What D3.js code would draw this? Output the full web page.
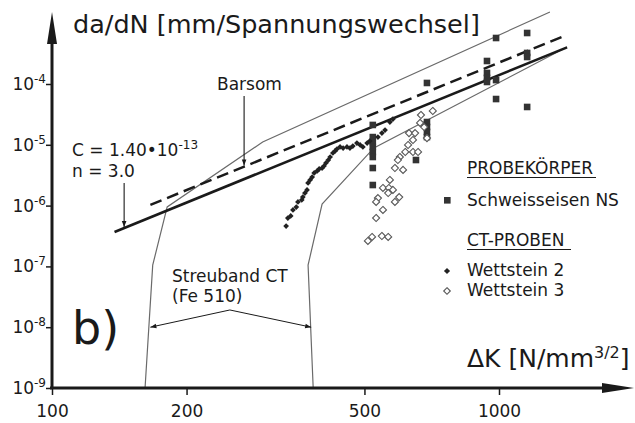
<!DOCTYPE html>
<html><head><meta charset="utf-8">
<script src="https://cdn.jsdelivr.net/npm/d3@7"></script>
<style>body{margin:0;background:#fff}svg{display:block}text{font-family:"DejaVu Sans",sans-serif;fill:#1a1a1a}</style>
</head><body><svg id="c" width="635" height="423"></svg>
<script>
// ---- data ----
const xTicks = [100, 200, 500, 1000];
const xTickLabels = ["100", "200", "500", "1000"];
const yTicks = [1e-4, 1e-5, 1e-6, 1e-7, 1e-8, 1e-9];
const yTickExps = ["-4", "-5", "-6", "-7", "-8", "-9"];

// Paris law lines  da/dN = C * dK^n
const parisC = 1.40e-13, parisN = 3.0, parisRange = [138, 1420];
const barsomC = 2.25e-13, barsomN = 3.0, barsomRange = [166, 1390];

// scatter band CT (Fe 510) boundaries [dK, da/dN]
const bandLeft = [[161.5, 1e-9], [168, 1.05e-7], [181, 9.5e-7], [296, 1.11e-5], [1300, 1.53e-3]];
const bandRight = [[384, 1e-9], [374, 1.05e-7], [402, 1.06e-6], [525, 8.9e-6], [1420, 4.06e-4]];

// Schweisseisen NS (squares)
const schweisseisen = [
  [522, 2.12e-5], [522, 1.34e-5], [522, 1.11e-5], [522, 9.21e-6], [522, 7.62e-6], [522, 6.30e-6],
  [522, 4.15e-6], [522, 2.18e-6],
  [690, 2.37e-5], [690, 1.96e-5], [690, 1.63e-5], [690, 1.34e-5], [652, 5.62e-6], [690, 1.04e-4],
  [940, 2.39e-4], [940, 1.52e-4], [940, 1.26e-4], [940, 1.08e-4],
  [985, 5.71e-4], [985, 1.16e-4], [985, 5.66e-5],
  [1156, 6.9e-4], [1156, 3.24e-4], [1156, 2.78e-4], [1156, 4.19e-5]
];
// Wettstein 2 (filled diamonds)
const wettstein2 = [
  [334, 4.61e-7], [337, 6.25e-7], [342, 6.75e-7], [346, 8.48e-7], [352, 9.48e-7], [355, 1.15e-6],
  [362, 1.24e-6], [364, 1.38e-6], [368, 1.61e-6], [372, 1.81e-6], [374, 2.36e-6], [378, 2.64e-6],
  [382, 2.95e-6], [386, 3.44e-6], [392, 3.71e-6], [396, 4.00e-6], [402, 4.15e-6], [406, 4.48e-6],
  [410, 5.02e-6], [415, 5.62e-6], [419, 6.30e-6], [425, 7.33e-6], [430, 7.91e-6], [434, 8.53e-6],
  [441, 9.21e-6], [448, 8.85e-6], [457, 9.21e-6], [464, 8.85e-6], [471, 9.55e-6], [481, 1.07e-5],
  [489, 9.93e-6], [496, 9.21e-6], [507, 1.07e-5], [514, 1.15e-5], [536, 1.34e-5], [547, 1.56e-5],
  [556, 1.75e-5], [570, 2.37e-5], [579, 2.65e-5]
];
// Wettstein 3 (open diamonds)
const wettstein3 = [
  [711, 3.60e-5], [669, 3.09e-5], [666, 2.29e-5], [680, 1.96e-5], [690, 1.29e-5], [629, 1.56e-5],
  [649, 1.56e-5], [642, 1.20e-5], [626, 9.93e-6], [617, 7.62e-6], [642, 7.62e-6], [659, 7.62e-6],
  [600, 6.30e-6], [594, 5.62e-6], [585, 4.15e-6], [610, 3.86e-6], [570, 2.64e-6], [550, 1.95e-6],
  [567, 1.95e-6], [579, 1.81e-6], [565, 1.61e-6], [598, 1.38e-6], [585, 1.15e-6], [536, 1.33e-6],
  [531, 1.15e-6], [550, 8.48e-7], [531, 6.25e-7], [509, 2.62e-7], [520, 3.05e-7], [547, 3.16e-7],
  [565, 3.05e-7]
];

// ---- drawing ----
const svg = d3.select("#c");
const x = d3.scaleLog().domain([100, 1000]).range([52, 499]);
const y = d3.scaleLog().domain([1e-9, 1e-4]).range([388, 84]);
const ink = "#1a1a1a";

// band
const bandLine = d3.line().x(d => x(d[0])).y(d => y(d[1]));
[bandLeft, bandRight].forEach(b => svg.append("path").attr("d", bandLine(b))
  .attr("fill", "none").attr("stroke", "#6a6a6a").attr("stroke-width", 1.2));

// Paris lines
function powLine(C, n, r) { return r.map(k => [k, C * Math.pow(k, n)]); }
svg.append("path").attr("d", bandLine(powLine(barsomC, barsomN, barsomRange)))
  .attr("fill", "none").attr("stroke", ink).attr("stroke-width", 2.5).attr("stroke-dasharray", "12,6");
svg.append("path").attr("d", bandLine(powLine(parisC, parisN, parisRange)))
  .attr("fill", "none").attr("stroke", ink).attr("stroke-width", 2.6);

// markers
svg.append("g").selectAll("rect").data(schweisseisen).join("rect")
  .attr("x", d => x(d[0]) - 3.3).attr("y", d => y(d[1]) - 3.3).attr("width", 6.6).attr("height", 6.6)
  .attr("fill", "#333");
const diam = d3.symbol().type(d3.symbolDiamond2);
svg.append("g").selectAll("path").data(wettstein2).join("path")
  .attr("d", diam.size(21)()).attr("transform", d => `translate(${x(d[0])},${y(d[1])})`)
  .attr("fill", "#222");
svg.append("g").selectAll("path").data(wettstein3).join("path")
  .attr("d", diam.size(32)()).attr("transform", d => `translate(${x(d[0])},${y(d[1])})`)
  .attr("fill", "#fff").attr("stroke", "#555").attr("stroke-width", 1.1);

// axes
const xAxis = d3.axisBottom(x).tickValues(xTicks).tickFormat((d, i) => xTickLabels[i]).tickSize(7).tickSizeOuter(0);
const gx = svg.append("g").attr("transform", "translate(0,388)").call(xAxis);
gx.select(".domain").remove();
gx.selectAll("line").attr("stroke", ink).attr("stroke-width", 1.5);
gx.selectAll("text").attr("dy", null).attr("y", 29).attr("font-size", 17).attr("font-family", "DejaVu Sans").attr("fill", ink);

const yAxis = d3.axisLeft(y).tickValues(yTicks).tickFormat("").tickSize(6).tickSizeOuter(0);
const gy = svg.append("g").attr("transform", "translate(52,0)").call(yAxis);
gy.select(".domain").remove();
gy.selectAll("line").attr("stroke", ink).attr("stroke-width", 1.5);
const yl = svg.append("g").selectAll("text").data(yTicks).join("text")
  .attr("x", 46).attr("y", d => y(d) + 6).attr("text-anchor", "end").attr("font-size", 17);
yl.append("tspan").text("10");
yl.append("tspan").attr("dy", -7).attr("font-size", 12).text((d, i) => yTickExps[i]);

// axis lines with arrows
svg.append("line").attr("x1", 52).attr("y1", 389).attr("x2", 52).attr("y2", 30).attr("stroke", ink).attr("stroke-width", 3);
svg.append("line").attr("x1", 50).attr("y1", 388).attr("x2", 615).attr("y2", 388).attr("stroke", ink).attr("stroke-width", 3);
svg.append("path").attr("d", "M52,12 L57,44 L47,44 Z").attr("fill", ink);
svg.append("path").attr("d", "M634,388 L602,383 L602,393 Z").attr("fill", ink);

// titles
svg.append("text").attr("x", 73).attr("y", 33).attr("font-size", 25.5).text("da/dN [mm/Spannungswechsel]");
const xt = svg.append("text").attr("x", 467).attr("y", 367).attr("font-size", 25);
xt.append("tspan").text("ΔK [N/mm");
xt.append("tspan").attr("dy", -9).attr("font-size", 16).text("3/2");
xt.append("tspan").attr("dy", 9).text("]");

// annotations
svg.append("text").attr("x", 72).attr("y", 344).attr("font-size", 46).text("b)");
svg.append("text").attr("x", 217).attr("y", 90).attr("font-size", 17).text("Barsom");
const ct = svg.append("text").attr("x", 72).attr("y", 156).attr("font-size", 17);
ct.append("tspan").text("C = 1.40•10");
ct.append("tspan").attr("dy", -7).attr("font-size", 12).text("-13");
svg.append("text").attr("x", 72).attr("y", 177).attr("font-size", 17).text("n = 3.0");
svg.append("text").attr("x", 172).attr("y", 282).attr("font-size", 17).text("Streuband CT");
svg.append("text").attr("x", 172).attr("y", 302).attr("font-size", 17).text("(Fe 510)");

function arrowHead(tx, ty, ang) { // ang: direction of travel in radians
  const L = 6, W = 2.3;
  const bx = tx - L * Math.cos(ang), by = ty - L * Math.sin(ang);
  const px = -Math.sin(ang) * W, py = Math.cos(ang) * W;
  svg.append("path").attr("d", `M${tx},${ty} L${bx + px},${by + py} L${bx - px},${by - py} Z`).attr("fill", ink);
}
// C pointer
const cK = 145, cy = y(parisC * Math.pow(cK, parisN));
svg.append("line").attr("x1", x(cK)).attr("x2", x(cK)).attr("y1", 183).attr("y2", cy - 1).attr("stroke", ink).attr("stroke-width", 1.1);
arrowHead(x(cK), cy - 1, Math.PI / 2);
// Barsom pointer
const bK = 269, by_ = y(barsomC * Math.pow(bK, barsomN));
svg.append("line").attr("x1", x(bK)).attr("x2", x(bK)).attr("y1", 96).attr("y2", by_ - 1).attr("stroke", ink).attr("stroke-width", 1.1);
arrowHead(x(bK), by_ - 1, Math.PI / 2);
// Streuband span arrows
const sL = [x(166), y(1e-8)], sP = [x(250), y(1.92e-8)], sR = [x(380), y(1e-8)];
svg.append("path").attr("d", `M${sL[0]},${sL[1]} L${sP[0]},${sP[1]} L${sR[0]},${sR[1]}`)
  .attr("fill", "none").attr("stroke", ink).attr("stroke-width", 1);
arrowHead(sL[0], sL[1], Math.atan2(sL[1] - sP[1], sL[0] - sP[0]));
arrowHead(sR[0], sR[1], Math.atan2(sR[1] - sP[1], sR[0] - sP[0]));

// legend
const lg = svg.append("g");
lg.append("text").attr("x", 467).attr("y", 174).attr("font-size", 17).text("PROBEKÖRPER");
lg.append("line").attr("x1", 467).attr("x2", 596).attr("y1", 177.5).attr("y2", 177.5).attr("stroke", ink).attr("stroke-width", 1.2);
lg.append("rect").attr("x", 444).attr("y", 197).attr("width", 6.6).attr("height", 6.6).attr("fill", "#333");
lg.append("text").attr("x", 467).attr("y", 206).attr("font-size", 17).text("Schweisseisen NS");
lg.append("text").attr("x", 467).attr("y", 246).attr("font-size", 17).text("CT-PROBEN");
lg.append("line").attr("x1", 467).attr("x2", 571).attr("y1", 249.5).attr("y2", 249.5).attr("stroke", ink).attr("stroke-width", 1.2);
lg.append("path").attr("d", diam.size(24)()).attr("transform", "translate(447,271)").attr("fill", "#222");
lg.append("text").attr("x", 467).attr("y", 276).attr("font-size", 17).text("Wettstein 2");
lg.append("path").attr("d", diam.size(28)()).attr("transform", "translate(447,291)").attr("fill", "#fff").attr("stroke", "#555").attr("stroke-width", 1.1);
lg.append("text").attr("x", 467).attr("y", 296).attr("font-size", 17).text("Wettstein 3");
</script></body></html>
